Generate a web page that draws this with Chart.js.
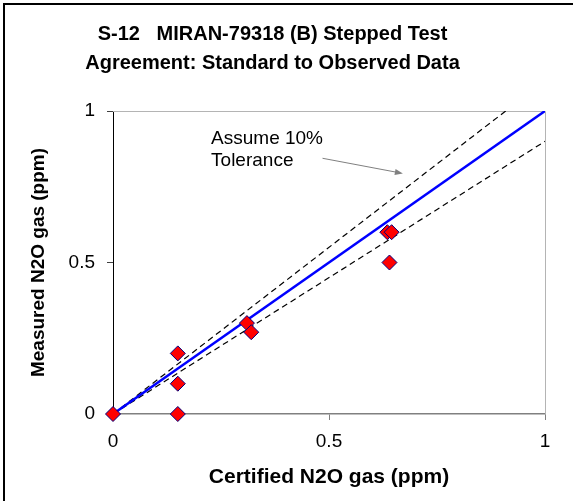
<!DOCTYPE html>
<html>
<head>
<meta charset="utf-8">
<title>S-12 MIRAN-79318 (B) Stepped Test</title>
<script src="https://cdn.jsdelivr.net/npm/chart.js@4"></script>
<style>
  html, body { margin: 0; padding: 0; background: #fff; }
  canvas { display: block; }
</style>
</head>
<body>
<canvas id="chart" width="573" height="501"></canvas>
<script>
// Certified vs measured N2O (ppm)
const certified = [0, 0.15, 0.15, 0.15, 0.31, 0.32, 0.635, 0.645, 0.64];
const measured  = [0, 0.2, 0.1, 0, 0.3, 0.27, 0.6, 0.6, 0.5];

// 1:1 line and the +/-10% tolerance lines
const idealX = [0, 1];
const idealY = [0, 1];
const upperX = [0, 0.909];
const upperY = [0, 1];
const lowerX = [0, 1];
const lowerY = [0, 0.9];

const tickValues = [0, 0.5, 1];
const titleLines = ['S-12   MIRAN-79318 (B) Stepped Test', 'Agreement: Standard to Observed Data'];
const noteLines = ['Assume 10%', 'Tolerance'];

const FONT = "'Liberation Sans', Arial, sans-serif";

function pairs(xs, ys) {
    return xs.map((x, i) => ({ x: x, y: ys[i] }));
}

// frame round the picture and round the plot area
const framePlugin = {
    id: 'frame',
    beforeDraw(chart) {
        const ctx = chart.ctx;
        ctx.save();
        ctx.fillStyle = '#fff';
        ctx.fillRect(0, 0, chart.width, chart.height);
        ctx.strokeStyle = '#000';
        ctx.lineWidth = 2;
        ctx.beginPath();
        ctx.moveTo(4, chart.height);
        ctx.lineTo(4, 4);
        ctx.lineTo(chart.width, 4);
        ctx.stroke();
        ctx.restore();
    },
    beforeDatasetsDraw(chart) {
        const a = chart.chartArea;
        const ctx = chart.ctx;
        ctx.save();
        ctx.strokeStyle = '#b4b4b4';
        ctx.lineWidth = 1;
        ctx.beginPath();
        ctx.moveTo(a.left, a.top + 0.5);
        ctx.lineTo(a.right + 0.5, a.top + 0.5);
        ctx.lineTo(a.right + 0.5, a.bottom);
        ctx.stroke();
        ctx.restore();
    }
};

// "Assume 10% Tolerance" note with its arrow
const notePlugin = {
    id: 'note',
    afterDatasetsDraw(chart) {
        const x = chart.scales.x, y = chart.scales.y;
        const ctx = chart.ctx;
        ctx.save();
        ctx.fillStyle = '#000';
        ctx.font = '19px ' + FONT;
        ctx.textBaseline = 'alphabetic';
        ctx.fillText(noteLines[0], x.getPixelForValue(0.227), y.getPixelForValue(0.891));
        ctx.fillText(noteLines[1], x.getPixelForValue(0.227), y.getPixelForValue(0.818));

        const x1 = x.getPixelForValue(0.485), y1 = y.getPixelForValue(0.844);
        const x2 = x.getPixelForValue(0.671), y2 = y.getPixelForValue(0.794);
        const ang = Math.atan2(y2 - y1, x2 - x1);
        ctx.strokeStyle = '#808080';
        ctx.fillStyle = '#808080';
        ctx.lineWidth = 1;
        ctx.beginPath();
        ctx.moveTo(x1, y1);
        ctx.lineTo(x2 - 6 * Math.cos(ang), y2 - 6 * Math.sin(ang));
        ctx.stroke();
        ctx.beginPath();
        ctx.moveTo(x2, y2);
        ctx.lineTo(x2 - 8 * Math.cos(ang) + 3 * Math.sin(ang), y2 - 8 * Math.sin(ang) - 3 * Math.cos(ang));
        ctx.lineTo(x2 - 8 * Math.cos(ang) - 3 * Math.sin(ang), y2 - 8 * Math.sin(ang) + 3 * Math.cos(ang));
        ctx.closePath();
        ctx.fill();
        ctx.restore();
    }
};

new Chart(document.getElementById('chart'), {
    type: 'scatter',
    data: {
        datasets: [
            {
                label: 'Measured',
                data: pairs(certified, measured),
                pointStyle: 'rectRot',
                pointRadius: 7.5,
                pointHoverRadius: 7.5,
                backgroundColor: '#ff0000',
                borderColor: '#000080',
                borderWidth: 1,
                clip: false,
                order: 0
            },
            {
                label: 'Ideal',
                data: pairs(idealX, idealY),
                showLine: true,
                borderColor: '#0000ff',
                borderWidth: 2.5,
                pointRadius: 0,
                order: 1
            },
            {
                label: '+10%',
                data: pairs(upperX, upperY),
                showLine: true,
                borderColor: '#000',
                borderWidth: 1.2,
                borderDash: [6, 4],
                pointRadius: 0,
                order: 2
            },
            {
                label: '-10%',
                data: pairs(lowerX, lowerY),
                showLine: true,
                borderColor: '#000',
                borderWidth: 1.2,
                borderDash: [6, 4],
                pointRadius: 0,
                order: 2
            }
        ]
    },
    options: {
        responsive: false,
        animation: false,
        events: [],
        layout: { padding: { left: 0, right: 28, top: 0, bottom: 0 } },
        plugins: {
            legend: { display: false },
            tooltip: { enabled: false },
            title: {
                display: true,
                text: titleLines,
                color: '#000',
                font: { family: FONT, size: 20, weight: 'bold', lineHeight: 1.45 },
                padding: { top: 20, bottom: 33 }
            }
        },
        scales: {
            x: {
                type: 'linear',
                min: 0,
                max: 1,
                afterBuildTicks: s => { s.ticks = tickValues.map(v => ({ value: v })); },
                afterFit: s => { s.height = 87; },
                ticks: {
                    color: '#000',
                    font: { family: FONT, size: 19 },
                    padding: 10,
                    maxRotation: 0,
                    callback: v => String(v)
                },
                grid: { drawOnChartArea: false, tickLength: 6, tickColor: '#808080' },
                border: { color: '#808080', width: 1.5 },
                title: {
                    display: true,
                    text: 'Certified N2O gas (ppm)',
                    color: '#000',
                    font: { family: FONT, size: 21, weight: 'bold' },
                    padding: { top: 0, bottom: 11 }
                }
            },
            y: {
                type: 'linear',
                min: 0,
                max: 1,
                afterBuildTicks: s => { s.ticks = tickValues.map(v => ({ value: v })); },
                afterFit: s => { s.width = 113; },
                ticks: {
                    color: '#000',
                    font: { family: FONT, size: 19 },
                    padding: 12,
                    callback: v => String(v)
                },
                grid: { drawOnChartArea: false, tickLength: 6, tickColor: '#404040' },
                border: { color: '#000', width: 1 },
                title: {
                    display: true,
                    text: 'Measured N2O gas (ppm)',
                    color: '#000',
                    font: { family: FONT, size: 19, weight: 'bold' },
                    padding: { top: 27, bottom: 0 }
                }
            }
        }
    },
    plugins: [framePlugin, notePlugin]
});
</script>
</body>
</html>
